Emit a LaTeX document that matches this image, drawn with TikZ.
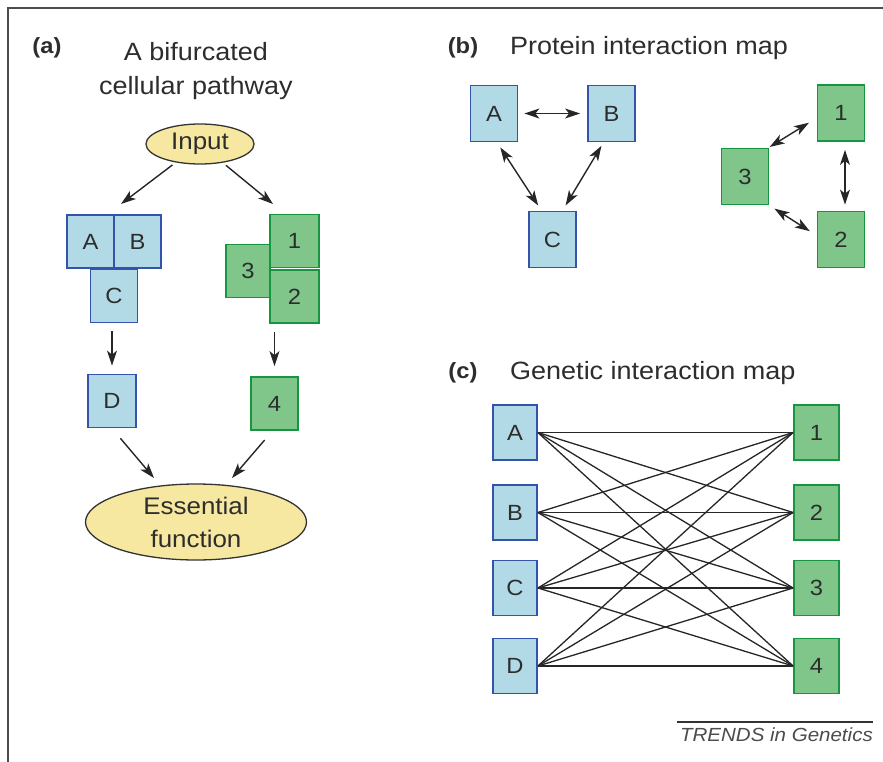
\documentclass[tikz,border=0pt]{standalone}
\usepackage{fontspec}
\setmainfont[FakeStretch=1.08]{Liberation Sans}
\usetikzlibrary{arrows.meta,shapes.geometric,calc}
\definecolor{bfill}{RGB}{178,218,230}
\definecolor{bdraw}{RGB}{52,84,172}
\definecolor{gfill}{RGB}{128,198,138}
\definecolor{gdraw}{RGB}{22,150,62}
\definecolor{yfill}{RGB}{246,232,160}
\definecolor{txt}{RGB}{45,45,45}
\tikzset{
  bbox/.style={draw=bdraw,fill=bfill,line width=1.8pt,minimum width=#1,minimum height=53pt,inner sep=0pt,font=\fontsize{22}{22}\selectfont,text=txt},
  bbox/.default=47pt,
  gbox/.style={draw=gdraw,fill=gfill,line width=1.8pt,minimum width=#1,minimum height=53pt,inner sep=0pt,font=\fontsize{22}{22}\selectfont,text=txt},
  gbox/.default=47pt,
  oval/.style={ellipse,draw=black!80,fill=yfill,line width=1.3pt,inner sep=0pt,text=txt,align=center},
  tip/.tip={Stealth[length=15pt,width=10pt,inset=4pt]},
  arr/.style={-tip,line width=1.4pt,black!85},
  darr/.style={tip-tip,line width=1.4pt,black!85},
  ttl/.style={font=\fontsize{25}{34}\selectfont,text=txt,align=center,inner sep=0pt},
  lbl/.style={font=\bfseries\fontsize{22}{22}\selectfont,text=txt,inner sep=0pt},
  gline/.style={line width=1.3pt,black!85}
}
\begin{document}
\begin{tikzpicture}[x=1pt,y=-1pt]
\useasboundingbox (0,0) rectangle (883,762);
\fill[white] (0,0) rectangle (883,762);
\draw[line width=2pt,black!70] (8,762) -- (8,8) -- (883,8);

% (a)
\node[lbl] (la) at (47,48) {(a)};
\node[ttl] (ta) at (196,71) {A bifurcated\\cellular pathway};
\node[oval,minimum width=108pt,minimum height=40pt,font=\fontsize{24}{24}\selectfont] (input) at (200,144) {Input};
\node[bbox] (aA) at (90.5,241.5) {A};
\node[bbox] (aB) at (137.5,241.5) {B};
\node[bbox] (aC) at (114,296) {C};
\node[gbox=44pt] (a3) at (248,271) {3};
\node[gbox=49pt] (a1) at (294.5,241) {1};
\node[gbox=49pt] (a2) at (294.5,296.5) {2};
\node[bbox=48pt] (aD) at (112,401) {D};
\node[gbox] (a4) at (274.5,403.5) {4};
\node[oval,minimum width=221pt,minimum height=76pt,font=\fontsize{24}{33}\selectfont] (ess) at (196,522) {Essential\\function};
\coordinate (i1e) at (121,204);
\coordinate (i2e) at (273,204);
\draw[arr,shorten <=4pt] (input) -- (i1e);
\draw[arr,shorten <=4pt] (input) -- (i2e);
\draw[arr,shorten <=8pt,shorten >=8pt] (aC.south -| aD.north) -- (aD.north);
\draw[arr,shorten <=8pt,shorten >=10pt] (a2.south -| a4.north) -- (a4.north);
\coordinate (e1e) at (154,478);
\coordinate (e2e) at (232,478);
\draw[arr,shorten <=13pt] (aD.south) -- (e1e);
\draw[arr,shorten <=12pt] ([xshift=-2pt]a4.south) -- (e2e);

% (b)
\node[lbl] (lb) at (463,48) {(b)};
\node[ttl,anchor=west] (tb) at (510,48) {Protein interaction map};
\node[bbox,minimum height=56pt] (pA) at (494,113.5) {A};
\node[bbox,minimum height=56pt] (pB) at (611.5,113.5) {B};
\node[bbox,minimum height=56pt] (pC) at (552.5,239.5) {C};
\node[gbox,minimum height=56pt] (p1) at (841,113) {1};
\node[gbox,minimum height=56pt] (p3) at (745,176.5) {3};
\node[gbox,minimum height=56pt] (p2) at (841,239.5) {2};
\draw[darr,shorten <=6pt,shorten >=7pt] (pA.east) -- (pB.west);
\draw[darr,shorten <=6pt,shorten >=6pt] ([xshift=3pt]pA.south) -- ([xshift=-11pt]pC.north);
\draw[darr,shorten <=4pt,shorten >=6pt] ([xshift=-8pt]pB.south) -- ([xshift=10pt]pC.north);
\draw[darr,shorten <=5pt,shorten >=9pt] ([xshift=-4pt,yshift=-2pt]p3.north east) -- ([yshift=-5pt]p1.west);
\draw[darr,shorten <=8pt,shorten >=6pt] ([xshift=4pt]p1.south) -- ([xshift=4pt]p2.north);
\draw[darr,shorten <=6pt,shorten >=8pt] (p3.south east) -- ([yshift=4pt]p2.west);

% (c)
\node[lbl] (lc) at (463,373) {(c)};
\node[ttl,anchor=west] (tc) at (510,373) {Genetic interaction map};
\node[bbox=44pt,minimum height=55pt] (gA) at (515,432.5) {A};
\node[bbox=44pt,minimum height=55pt] (gB) at (515,512.5) {B};
\node[bbox=44pt,minimum height=55pt] (gC) at (515,588) {C};
\node[bbox=44pt,minimum height=55pt] (gD) at (515,666) {D};
\node[gbox=45pt,minimum height=55pt] (g1) at (816.5,432.5) {1};
\node[gbox=45pt,minimum height=55pt] (g2) at (816.5,512.5) {2};
\node[gbox=45pt,minimum height=55pt] (g3) at (816.5,588) {3};
\node[gbox=45pt,minimum height=55pt] (g4) at (816.5,666) {4};
\foreach \l in {gA,gB,gC,gD}{
  \foreach \r in {g1,g2,g3,g4}{
    \draw[gline] (\l.east) -- (\r.west);
  }
}

% footer
\coordinate (f1) at (677,722);
\node[anchor=north east,inner sep=0pt,font=\itshape\fontsize{19}{19}\selectfont,text=black!70] (trends) at (873,728) {TRENDS in Genetics};
\draw[line width=1.5pt,black!80] (f1) -- (f1 -| trends.east);
\end{tikzpicture}
\end{document}
